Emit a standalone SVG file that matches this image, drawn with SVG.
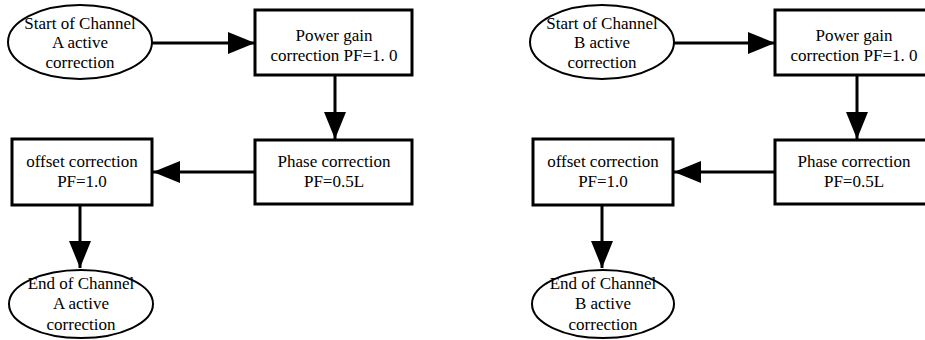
<svg xmlns="http://www.w3.org/2000/svg" width="925" height="340" viewBox="0 0 925 340">
<style>
.box{fill:#fff;stroke:#000;stroke-width:3}
.ell{fill:#fff;stroke:#000;stroke-width:2}
text{font-family:'Liberation Serif','Times New Roman',Times,serif;font-size:17px;fill:#000;text-anchor:middle}
.c{stroke:#000;stroke-width:3;fill:none;marker-end:url(#ah)}
</style>
<defs>
<marker id="ah" markerUnits="userSpaceOnUse" markerWidth="27" markerHeight="22" refX="27" refY="11" orient="auto">
<path d="M0,0 L27,11 L0,22 Z" fill="#000"/>
</marker>
</defs>
<rect width="925" height="340" fill="#fff"/>
<g id="connectors">
<line class="c" x1="152" y1="43" x2="255" y2="43"/>
<line class="c" x1="335" y1="75" x2="335" y2="139"/>
<line class="c" x1="255" y1="172" x2="153" y2="172"/>
<line class="c" x1="80" y1="205" x2="80" y2="268"/>
<line class="c" x1="674" y1="43" x2="775" y2="43"/>
<line class="c" x1="857" y1="75" x2="857" y2="139"/>
<line class="c" x1="775" y1="172" x2="674" y2="172"/>
<line class="c" x1="602" y1="205" x2="602" y2="268"/>
</g>
<g id="startA">
<ellipse class="ell" cx="80" cy="42" rx="72" ry="37"/>
<text x="80" y="29">Start of Channel</text>
<text x="80" y="48">A active</text>
<text x="80" y="68">correction</text>
</g>
<g id="powerA">
<rect class="box" x="255" y="10" width="157" height="65"/>
<text x="334" y="41">Power gain</text>
<text x="334" y="61">correction PF=1. 0</text>
</g>
<g id="phaseA">
<rect class="box" x="255" y="140" width="157" height="64"/>
<text x="334" y="167">Phase correction</text>
<text x="334" y="187">PF=0.5L</text>
</g>
<g id="offsetA">
<rect class="box" x="12" y="139" width="140" height="66"/>
<text x="82" y="167">offset correction</text>
<text x="82" y="187">PF=1.0</text>
</g>
<g id="endA">
<ellipse class="ell" cx="81" cy="304" rx="72" ry="34"/>
<text x="81" y="289">End of Channel</text>
<text x="81" y="309">A active</text>
<text x="81" y="330">correction</text>
</g>
<g id="startB">
<ellipse class="ell" cx="602" cy="42" rx="72" ry="37"/>
<text x="602" y="29">Start of Channel</text>
<text x="602" y="48">B active</text>
<text x="602" y="68">correction</text>
</g>
<g id="powerB">
<rect class="box" x="775" y="10" width="157" height="65"/>
<text x="854" y="41">Power gain</text>
<text x="854" y="61">correction PF=1. 0</text>
</g>
<g id="phaseB">
<rect class="box" x="775" y="140" width="157" height="64"/>
<text x="854" y="167">Phase correction</text>
<text x="854" y="187">PF=0.5L</text>
</g>
<g id="offsetB">
<rect class="box" x="533" y="139" width="140" height="66"/>
<text x="603" y="167">offset correction</text>
<text x="603" y="187">PF=1.0</text>
</g>
<g id="endB">
<ellipse class="ell" cx="603" cy="304" rx="71" ry="34"/>
<text x="603" y="289">End of Channel</text>
<text x="603" y="309">B active</text>
<text x="603" y="330">correction</text>
</g>
</svg>
